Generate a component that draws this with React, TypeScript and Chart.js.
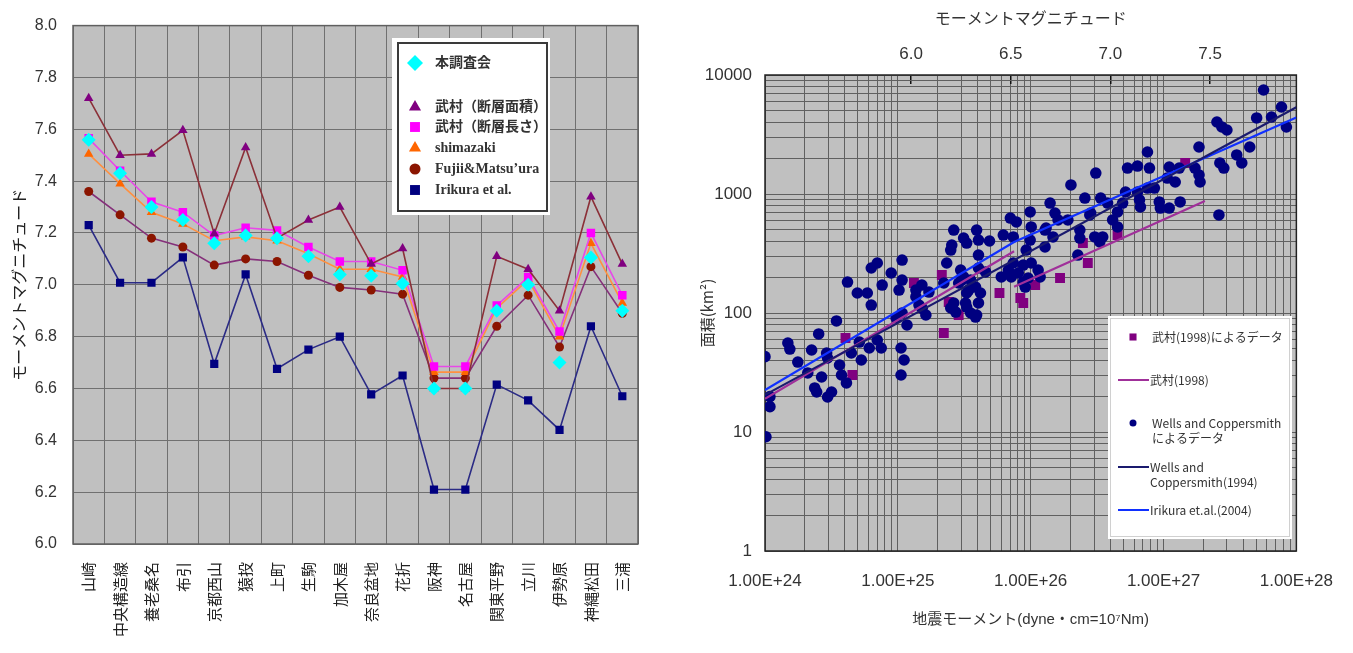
import React, { useEffect, useRef } from 'react';
import { Chart, registerables } from 'chart.js';

Chart.register(...registerables);

// ================= Left chart data =================
const faultNames = ['山崎', '中央構造線', '養老桑名', '布引', '京都西山', '猿投', '上町', '生駒', '加木屋', '奈良盆地', '花折', '阪神', '名古屋', '関東平野', '立川', '伊勢原', '神縄松田', '三浦'];
const honChosakai = [7.56, 7.43, 7.30, 7.25, 7.16, 7.19, 7.18, 7.11, 7.04, 7.035, 7.005, 6.60, 6.60, 6.90, 7.00, 6.70, 7.105, 6.90];
const takemuraArea = [7.72, 7.50, 7.505, 7.596, 7.197, 7.53, 7.18, 7.25, 7.30, 7.08, 7.14, 6.60, 6.60, 7.11, 7.06, 6.90, 7.34, 7.08];
const takemuraLength = [7.565, 7.44, 7.32, 7.28, 7.19, 7.22, 7.21, 7.146, 7.09, 7.09, 7.056, 6.685, 6.685, 6.92, 7.03, 6.82, 7.20, 6.96];
const shimazaki = [7.505, 7.39, 7.28, 7.235, 7.17, 7.185, 7.17, 7.12, 7.06, 7.06, 7.03, 6.663, 6.663, 6.91, 7.02, 6.80, 7.16, 6.93];
const fujiiMatsuura = [7.36, 7.27, 7.18, 7.146, 7.076, 7.10, 7.09, 7.037, 6.99, 6.98, 6.964, 6.64, 6.64, 6.84, 6.96, 6.76, 7.07, 6.89];
const irikuraMw = [7.23, 7.008, 7.008, 7.106, 6.695, 7.04, 6.676, 6.75, 6.80, 6.577, 6.65, 6.21, 6.21, 6.615, 6.554, 6.44, 6.84, 6.57];

// ================= Right chart data (log10 of values) =================
const wcLogMoment = [
  24.000, 24.007, 24.037, 24.037, 24.172, 24.187, 24.247, 24.322, 24.351, 24.374,
  24.389, 24.404, 24.426, 24.464, 24.471, 24.471, 24.501, 24.538, 24.561, 24.576,
  24.613, 24.621, 24.650, 24.695, 24.710, 24.725, 24.770, 24.800, 24.785, 24.800,
  24.845, 24.845, 24.875, 24.882, 24.950, 24.987, 25.009, 25.024, 25.024, 25.032,
  25.032, 25.047, 25.032, 25.069, 25.136, 25.159, 25.181, 25.211, 25.234, 25.346,
  25.368, 25.398, 25.436, 25.398, 25.136, 25.183, 25.421, 25.406, 25.495, 25.518,
  25.593, 25.607, 25.690, 25.607, 25.473, 25.495, 25.607, 25.660, 25.548, 25.458,
  25.585, 25.622, 25.421, 25.510, 25.548, 25.593, 25.607, 25.518, 25.533, 25.585,
  25.794, 25.847, 25.892, 25.869, 25.996, 26.004, 25.996, 25.966, 26.108, 26.108,
  26.168, 26.146, 26.183, 26.206, 26.280, 26.303, 26.408, 26.452, 26.370, 26.370,
  26.490, 26.482, 26.355, 25.832, 25.779, 25.869, 25.907, 25.944, 25.944, 26.004,
  26.056, 26.071, 25.981, 25.854, 25.959, 26.116, 25.480, 25.518, 27.753, 27.888,
  27.813, 27.925, 27.701, 27.402, 27.439, 27.477, 27.649, 27.551, 27.589, 27.424,
  27.454, 27.417, 27.267, 27.237, 27.267, 27.275, 26.879, 26.729, 26.804, 26.894,
  27.043, 27.118, 27.028, 27.088, 26.714, 26.804, 26.879, 26.931, 26.819, 26.826,
  26.968, 26.976, 27.043, 27.125, 26.692, 26.654, 26.617, 26.654, 26.579, 26.527,
  26.445, 26.542, 26.520,
];
const wcLogArea = [
  1.633, 0.960, 1.297, 1.213, 1.748, 1.697, 1.588, 1.496, 1.689, 1.370,
  1.336, 1.824, 1.462, 1.664, 1.622, 1.294, 1.336, 1.933, 1.563, 1.479,
  1.412, 2.260, 1.664, 2.168, 1.756, 1.605, 2.168, 2.067, 1.706, 2.378,
  2.420, 1.773, 1.706, 2.235, 2.336, 1.958, 2.193, 1.706, 1.479, 2.445,
  2.277, 1.605, 2.000, 1.899, 2.193, 2.067, 2.235, 1.983, 2.176, 2.252,
  2.420, 2.042, 2.008, 2.529, 2.137, 2.039, 2.697, 2.571, 2.630, 2.588,
  2.697, 2.613, 2.605, 2.487, 2.361, 2.303, 2.378, 2.345, 2.277, 2.252,
  2.218, 2.168, 2.084, 2.084, 2.000, 1.983, 2.084, 2.168, 2.193, 1.966,
  2.655, 2.798, 2.765, 2.639, 2.849, 2.723, 2.613, 2.529, 2.555, 2.697,
  2.639, 2.924, 2.840, 2.782, 2.782, 3.076, 2.966, 2.840, 2.697, 2.630,
  3.176, 2.639, 2.487, 2.361, 2.303, 2.420, 2.336, 2.260, 2.403, 2.420,
  2.361, 2.303, 2.294, 2.303, 2.218, 2.714, 2.277, 2.050, 3.874, 3.731,
  3.647, 3.563, 3.639, 3.605, 3.563, 3.538, 3.395, 3.328, 3.261, 3.261,
  3.218, 2.824, 3.395, 3.218, 3.160, 3.101, 3.353, 3.218, 3.235, 3.218,
  3.227, 3.218, 3.134, 3.101, 3.017, 3.017, 3.050, 3.050, 2.950, 2.891,
  2.933, 2.882, 2.882, 2.933, 2.924, 2.849, 2.782, 2.723, 2.924, 2.966,
  2.824, 2.639, 2.597,
];
const tkLogMoment = [24.606, 24.658, 25.331, 25.346, 25.121, 25.383, 25.458, 25.765, 25.922, 25.944, 26.034, 26.221, 26.393, 26.430, 26.654, 27.163];
const tkLogArea = [1.790, 1.479, 2.319, 1.832, 2.252, 2.092, 1.983, 2.168, 2.126, 2.084, 2.235, 2.294, 2.588, 2.420, 2.655, 3.261];

const takemuraLineMoment = [1e24, 7.5e25, 7.5e25, 7.5e25, 2.05e27];
const takemuraLineArea = [19, 330, null, 166, 873];
const wcLineMoment = [1e24, 1e28];
const wcLineArea = [20.5, 5350];
const irikuraLineMoment = [1e24, 7.5e25, 1e28];
const irikuraLineArea = [22.5, 395, 4400];

const areaDecades = [1, 10, 100, 1000, 10000];
const areaTickLabels = ['1', '10', '100', '1000', '10000'];
const momentDecades = [1e24, 1e25, 1e26, 1e27, 1e28];
const momentTickLabels = ['1.00E+24', '1.00E+25', '1.00E+26', '1.00E+27', '1.00E+28'];
const magnitudeTicks = [6.0, 6.5, 7.0, 7.5];
const magnitudeTickLabels = ['6.0', '6.5', '7.0', '7.5'];
const minorMultipliers = [1, 2, 3, 4, 5, 6, 7, 8, 9];
const magnitudeMin = (24 - 16.1) / 1.5;
const magnitudeMax = (28 - 16.1) / 1.5;

const SANS = "'Liberation Sans', 'Noto Sans CJK JP', sans-serif";
const CJK = "'Noto Sans CJK JP', 'Liberation Sans', sans-serif";
const MIXED = "'Liberation Sans', 'DejaVu Sans', 'Noto Sans CJK JP', sans-serif";
const SERIF = "'Liberation Serif', 'Noto Sans CJK JP', serif";

function logTickValues(decades: number[]) {
  const out: number[] = [];
  decades.forEach((d, i) => {
    if (i === decades.length - 1) { out.push(d); return; }
    minorMultipliers.forEach((m) => out.push(m * d));
  });
  return out;
}

function decadeLabel(v: number, decades: number[], labels: string[]) {
  const i = decades.findIndex((d) => Math.abs(v / d - 1) < 1e-6);
  return i >= 0 ? labels[i] : '';
}

function drawMarker(ctx: CanvasRenderingContext2D, style: string, x: number, y: number, r: number, color: string) {
  ctx.fillStyle = color;
  ctx.beginPath();
  if (style === 'rectRot') {
    ctx.moveTo(x, y - r); ctx.lineTo(x + r, y); ctx.lineTo(x, y + r); ctx.lineTo(x - r, y); ctx.closePath();
  } else if (style === 'triangle') {
    const w = r * Math.sqrt(3) / 2;
    ctx.moveTo(x, y - r); ctx.lineTo(x + w, y + r / 2); ctx.lineTo(x - w, y + r / 2); ctx.closePath();
  } else if (style === 'rect') {
    const s = r * Math.SQRT1_2;
    ctx.rect(x - s, y - s, 2 * s, 2 * s);
  } else {
    ctx.arc(x, y, r, 0, Math.PI * 2);
  }
  ctx.fill();
}

const plotBackground = (color: string, border: string, borderWidth: number) => ({
  id: 'plotBackground',
  beforeDraw(chart: any) {
    const { ctx, chartArea: a } = chart;
    ctx.save();
    ctx.fillStyle = color;
    ctx.fillRect(a.left, a.top, a.right - a.left, a.bottom - a.top);
    ctx.restore();
  },
  beforeDatasetsDraw(chart: any) {
    const { ctx, chartArea: a } = chart;
    ctx.save();
    ctx.strokeStyle = border;
    ctx.lineWidth = borderWidth;
    ctx.strokeRect(a.left, a.top, a.right - a.left, a.bottom - a.top);
    ctx.restore();
  },
});

const leftLegend = {
  id: 'leftLegend',
  afterDraw(chart: any) {
    const ctx: CanvasRenderingContext2D = chart.ctx;
    ctx.save();
    ctx.fillStyle = '#ffffff';
    ctx.fillRect(392, 38, 158, 177);
    ctx.strokeStyle = '#3a3a3a';
    ctx.lineWidth = 2;
    ctx.strokeRect(398, 43, 149, 168);
    const rows = [
      { ds: 0, y: 63, r: 8 },
      { ds: 1, y: 107, r: 7 },
      { ds: 2, y: 127, r: 7 },
      { ds: 3, y: 148, r: 7 },
      { ds: 4, y: 169, r: 5.5 },
      { ds: 5, y: 190, r: 7 },
    ];
    ctx.font = `600 14px ${SERIF}`;
    ctx.textBaseline = 'middle';
    ctx.textAlign = 'left';
    rows.forEach((row) => {
      const d = chart.data.datasets[row.ds];
      drawMarker(ctx, d.pointStyle, 415, row.y, row.r, d.pointBackgroundColor);
      ctx.fillStyle = '#333333';
      ctx.fillText(d.label, 435, row.y);
    });
    ctx.restore();
  },
};

const rightLegend = {
  id: 'rightLegend',
  afterDraw(chart: any) {
    const ctx: CanvasRenderingContext2D = chart.ctx;
    const ox = -680;
    ctx.save();
    ctx.fillStyle = '#ffffff';
    ctx.fillRect(1108 + ox, 316, 184, 223);
    ctx.strokeStyle = '#d0d0d0';
    ctx.lineWidth = 1;
    ctx.strokeRect(1110.5 + ox, 318.5, 179, 218);
    const rows = [
      { ds: 0, y: 337, kind: 'marker' },
      { ds: 1, y: 380, kind: 'line' },
      { ds: 2, y: 423, kind: 'marker' },
      { ds: 3, y: 467, kind: 'line' },
      { ds: 4, y: 510, kind: 'line' },
    ];
    ctx.font = `12px ${CJK}`;
    ctx.textBaseline = 'middle';
    ctx.textAlign = 'left';
    rows.forEach((row) => {
      const d = chart.data.datasets[row.ds];
      if (row.kind === 'marker') {
        drawMarker(ctx, d.pointStyle, 1133 + ox, row.y, d.pointStyle === 'rect' ? 5 : 3.5, d.backgroundColor);
      } else {
        ctx.strokeStyle = d.borderColor;
        ctx.lineWidth = 2;
        ctx.beginPath();
        ctx.moveTo(1118 + ox, row.y);
        ctx.lineTo(1149 + ox, row.y);
        ctx.stroke();
      }
      ctx.fillStyle = '#333333';
      const lines = String(d.label).split('\n');
      lines.forEach((t, i) => ctx.fillText(t, (row.kind === 'marker' ? 1152 : 1150) + ox, row.y + i * 15));
    });
    ctx.restore();
  },
};

function leftConfig(): any {
  return {
    type: 'line',
    data: {
      labels: faultNames,
      datasets: [
        { label: '本調査会', data: honChosakai, showLine: false, pointStyle: 'rectRot', pointRadius: 7, pointBackgroundColor: '#00ffff', pointBorderColor: '#00ffff', pointBorderWidth: 0, borderColor: '#00ffff' },
        { label: '武村（断層面積）', data: takemuraArea, pointStyle: 'triangle', pointRadius: 5.5, pointBackgroundColor: '#800080', pointBorderColor: '#800080', pointBorderWidth: 0, borderColor: '#8b3038', borderWidth: 1.6 },
        { label: '武村（断層長さ）', data: takemuraLength, pointStyle: 'rect', pointRadius: 6, pointBackgroundColor: '#ff00ff', pointBorderColor: '#ff00ff', pointBorderWidth: 0, borderColor: '#e848e8', borderWidth: 1.6 },
        { label: 'shimazaki', data: shimazaki, pointStyle: 'triangle', pointRadius: 5.5, pointBackgroundColor: '#ff6600', pointBorderColor: '#ff6600', pointBorderWidth: 0, borderColor: '#ff9040', borderWidth: 1.6 },
        { label: 'Fujii&Matsu’ura', data: fujiiMatsuura, pointStyle: 'circle', pointRadius: 4.5, pointBackgroundColor: '#8b1500', pointBorderColor: '#8b1500', pointBorderWidth: 0, borderColor: '#85307a', borderWidth: 1.6 },
        { label: 'Irikura et al.', data: irikuraMw, pointStyle: 'rect', pointRadius: 5.8, pointBackgroundColor: '#000080', pointBorderColor: '#000080', pointBorderWidth: 0, borderColor: '#2b2b85', borderWidth: 1.6 },
      ],
    },
    options: {
      animation: false,
      responsive: false,
      events: [],
      layout: { padding: { left: 0, top: 24, right: 42, bottom: 0 } },
      elements: { line: { tension: 0 } },
      plugins: { legend: { display: false }, tooltip: { enabled: false } },
      scales: {
        x: {
          type: 'category',
          offset: true,
          grid: { offset: true, color: '#707070', lineWidth: 1, drawTicks: false },
          border: { display: false },
          ticks: { autoSkip: false, minRotation: 90, maxRotation: 90, padding: 18, color: '#222', font: { family: CJK, size: 15 } },
          afterFit: (s: any) => { s.height = 109; },
        },
        y: {
          min: 6,
          max: 8,
          ticks: { stepSize: 0.2, padding: 16, color: '#333', font: { family: SANS, size: 16 }, callback: (v: any) => Number(v).toFixed(1) },
          grid: { color: '#707070', lineWidth: 1, drawTicks: false },
          border: { display: false },
          title: { display: true, text: 'モーメントマグニチュード', color: '#222', font: { family: CJK, size: 16 }, padding: { top: 9 } },
          afterFit: (s: any) => { s.width = 73; },
        },
      },
    },
    plugins: [plotBackground('#c0c0c0', '#606060', 1.5), leftLegend],
  };
}

function rightConfig(): any {
  const pairs = (xs: number[], ys: (number | null)[]) => xs.map((x, i) => ({ x, y: ys[i] }));
  const logPairs = (xs: number[], ys: number[]) => xs.map((x, i) => ({ x: Math.pow(10, x), y: Math.pow(10, ys[i]) }));
  return {
    type: 'scatter',
    data: {
      datasets: [
        { label: '武村(1998)によるデータ', data: logPairs(tkLogMoment, tkLogArea), pointStyle: 'rect', pointRadius: 7, backgroundColor: '#800080', borderColor: '#800080', borderWidth: 0, order: 3 },
        { label: '武村(1998)', data: pairs(takemuraLineMoment, takemuraLineArea), showLine: true, spanGaps: false, pointRadius: 0, borderColor: '#a0309a', backgroundColor: '#a0309a', borderWidth: 2.2, order: 1 },
        { label: 'Wells and Coppersmith\nによるデータ', data: logPairs(wcLogMoment, wcLogArea), pointStyle: 'circle', pointRadius: 5.8, backgroundColor: '#000080', borderColor: '#000080', borderWidth: 0, order: 2 },
        { label: 'Wells and\nCoppersmith(1994)', data: pairs(wcLineMoment, wcLineArea), showLine: true, pointRadius: 0, borderColor: '#1a1a6e', backgroundColor: '#1a1a6e', borderWidth: 2.2, order: 0 },
        { label: 'Irikura et.al.(2004)', data: pairs(irikuraLineMoment, irikuraLineArea), showLine: true, pointRadius: 0, borderColor: '#1030ff', backgroundColor: '#1030ff', borderWidth: 2.2, order: 0 },
      ],
    },
    options: {
      animation: false,
      responsive: false,
      events: [],
      layout: { padding: { left: 0, top: 0, right: 53, bottom: 0 } },
      elements: { line: { tension: 0 } },
      plugins: { legend: { display: false }, tooltip: { enabled: false } },
      scales: {
        x: {
          type: 'logarithmic',
          position: 'bottom',
          min: 1e24,
          max: 1e28,
          afterBuildTicks: (s: any) => { s.ticks = logTickValues(momentDecades).map((value) => ({ value })); },
          ticks: { autoSkip: false, maxRotation: 0, padding: 20, color: '#333', font: { family: SANS, size: 17 }, callback: (v: any) => decadeLabel(Number(v), momentDecades, momentTickLabels) },
          grid: { color: '#606060', lineWidth: 1, drawTicks: false },
          border: { display: false },
          title: { display: true, text: '地震モーメント(dyne・cm=10⁷Nm)', color: '#333', font: { family: MIXED, size: 15 }, padding: { bottom: 24 } },
          afterFit: (s: any) => { s.height = 102; },
        },
        x2: {
          type: 'linear',
          position: 'top',
          min: magnitudeMin,
          max: magnitudeMax,
          afterBuildTicks: (s: any) => { s.ticks = magnitudeTicks.map((value) => ({ value })); },
          ticks: { autoSkip: false, maxRotation: 0, padding: 19, color: '#333', font: { family: SANS, size: 17 }, callback: (v: any) => magnitudeTickLabels[magnitudeTicks.findIndex((m) => Math.abs(m - Number(v)) < 1e-6)] ?? '' },
          grid: { drawOnChartArea: false, drawTicks: true, tickLength: -9, color: '#111', lineWidth: 1.5 },
          border: { display: false },
          title: { display: true, text: 'モーメントマグニチュード', color: '#333', font: { family: CJK, size: 16 }, padding: { top: 8 } },
          afterFit: (s: any) => { s.height = 75; },
        },
        y: {
          type: 'logarithmic',
          position: 'left',
          min: 1,
          max: 10000,
          afterBuildTicks: (s: any) => { s.ticks = logTickValues(areaDecades).map((value) => ({ value })); },
          ticks: { autoSkip: false, padding: 13, color: '#333', font: { family: SANS, size: 17 }, callback: (v: any) => decadeLabel(Number(v), areaDecades, areaTickLabels) },
          grid: { color: '#606060', lineWidth: 1, drawTicks: false },
          border: { display: false },
          title: { display: true, text: '面積(km²)', color: '#333', font: { family: CJK, size: 15 }, padding: { top: 18 } },
          afterFit: (s: any) => { s.width = 85; },
        },
      },
    },
    plugins: [plotBackground('#c0c0c0', '#222222', 1.5), rightLegend],
  };
}

export default function App() {
  const leftRef = useRef<HTMLCanvasElement>(null);
  const rightRef = useRef<HTMLCanvasElement>(null);
  useEffect(() => {
    const left = new Chart(leftRef.current as HTMLCanvasElement, leftConfig());
    const right = new Chart(rightRef.current as HTMLCanvasElement, rightConfig());
    return () => {
      left.destroy();
      right.destroy();
    };
  }, []);
  return (
    <div style={{ position: 'absolute', left: 0, top: 0, width: 1353, height: 653, background: '#ffffff', overflow: 'hidden' }}>
      <canvas ref={leftRef} width={680} height={653} style={{ position: 'absolute', left: 0, top: 0 }} />
      <canvas ref={rightRef} width={673} height={653} style={{ position: 'absolute', left: 680, top: 0 }} />
    </div>
  );
}
